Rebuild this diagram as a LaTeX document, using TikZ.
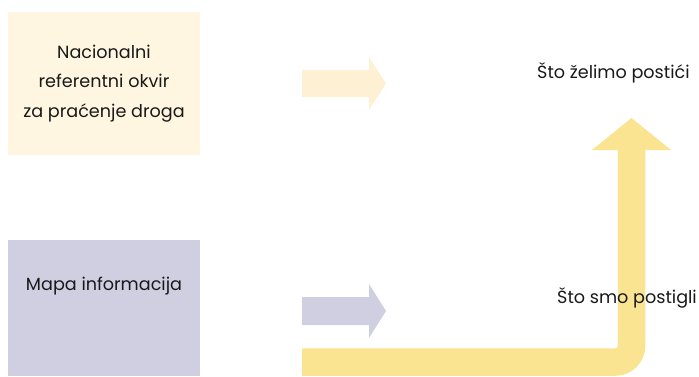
\documentclass[tikz,border=0pt]{standalone}
\usepackage{fontspec}
\setmainfont{Poppins}
\usetikzlibrary{positioning}
\definecolor{krem}{HTML}{FEF6E0}
\definecolor{kremstr}{HTML}{FEF1D3}
\definecolor{lavanda}{HTML}{D0CFE1}
\definecolor{zuta}{HTML}{FAE391}

\begin{document}
\begin{tikzpicture}[x=1pt,y=-1pt,
    okvir/.style={inner sep=0pt, minimum width=192pt},
    tekst/.style={font=\fontsize{17.6}{29.5}\selectfont, text=black!90, align=center, inner sep=0pt}]
        \useasboundingbox (0,0) rectangle (699,376);
        % boxes on the left
        \node(A1)[okvir, fill=krem, minimum height=143pt] at (104,83.5) {};
        \node(A2)[okvir, fill=lavanda, minimum height=136pt] at (104,308) {};
        \node(T1)[tekst] at (A1) {Nacionalni\\referentni okvir\\za praćenje droga};
        \node(T2)[tekst] at (104,286) {Mapa informacija};
        % short arrows
        \fill[kremstr] (302,70) -- (369,70) -- (369,57) -- (386,83.5) -- (369,110) -- (369,97) -- (302,97) -- cycle;
        \fill[lavanda] (302,297) -- (369,297) -- (369,284) -- (386,311) -- (369,338) -- (369,325) -- (302,325) -- cycle;
        % the big arrow
        \coordinate(B0) at (302,362);
        \coordinate(B1) at (631.5,362);
        \coordinate(B2) at (631.5,150);
        \draw[zuta, line width=27.5pt, rounded corners=16pt] (B0) -- (B1) -- (B2);
        \fill[zuta] (592,150) -- (631.5,118) -- (671,150) -- cycle;
        \node(C1)[tekst, anchor=west] at (537,73) {Što želimo postići};
        \node(C2)[tekst, anchor=west] at (557,298) {Što smo postigli};
    \end{tikzpicture}
\end{document}
